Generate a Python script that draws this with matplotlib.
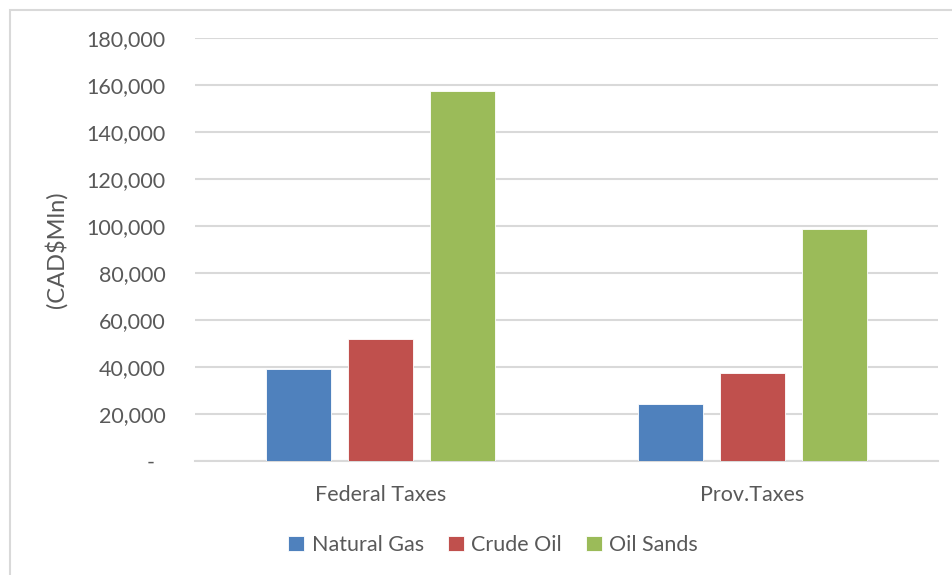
import matplotlib
matplotlib.use("Agg")
import matplotlib.pyplot as plt
from matplotlib.patches import Rectangle
from matplotlib.ticker import FuncFormatter, MultipleLocator
import numpy as np

plt.rcParams['font.family'] = ['Lato', 'DejaVu Sans']

# Tax revenue by sector (CAD$ million)
categories = ["Federal Taxes", "Prov.Taxes"]
series_names = ["Natural Gas", "Crude Oil", "Oil Sands"]
natural_gas = [39000, 24400]
crude_oil = [51900, 37400]
oil_sands = [157400, 98900]
colors = ["#4F81BD", "#C0504D", "#9BBB59"]

W, H = 953, 575
fig = plt.figure(figsize=(W / 100, H / 100), dpi=100)

# outer chart frame
fig.patches.append(Rectangle((10 / W, -0.1), 1.2, 1 - 10 / H + 0.1,
                             transform=fig.transFigure, fill=False,
                             edgecolor="#D9D9D9", linewidth=1.5))

ax = fig.add_axes([195 / W, 1 - 461 / H, (938 - 195) / W, (461 - 38) / H])

x = np.arange(len(categories))
bw = 0.175
gap = 0.046
offsets = [-(bw + gap), 0, bw + gap]
for vals, name, col, off in zip([natural_gas, crude_oil, oil_sands],
                                series_names, colors, offsets):
    ax.bar(x + off, vals, width=bw, color=col, label=name, zorder=3,
           edgecolor="white", linewidth=0.6)

ax.set_xlim(-0.5, 1.5)
ax.set_ylim(0, 180000)
ax.yaxis.set_major_locator(MultipleLocator(20000))
ax.yaxis.set_major_formatter(FuncFormatter(
    lambda v, p: "-  " if v == 0 else f"{int(v):,}"))
ax.grid(axis="y", color="#D9D9D9", linewidth=1.5, zorder=0)
ax.set_axisbelow(True)
for s in ["top", "right", "left"]:
    ax.spines[s].set_visible(False)
ax.spines["bottom"].set_color("#D9D9D9")
ax.spines["bottom"].set_linewidth(1.5)

ax.set_xticks(x)
ax.set_xticklabels(categories)
ax.tick_params(axis="both", length=0, labelsize=15.5, labelcolor="#595959")
ax.tick_params(axis="y", pad=21)
ax.tick_params(axis="x", pad=17)

ax.set_ylabel("(CAD$Mln)", fontsize=17, color="#595959", labelpad=14)

handles, labels = ax.get_legend_handles_labels()
fig.legend(handles, labels, loc="center", bbox_to_anchor=(493 / W, 1 - 545 / H),
           ncol=3, frameon=False, fontsize=15.5, labelcolor="#595959",
           handlelength=0.75, handleheight=0.75, handletextpad=0.35,
           columnspacing=1.1)

fig.savefig("out.png", dpi=100)
